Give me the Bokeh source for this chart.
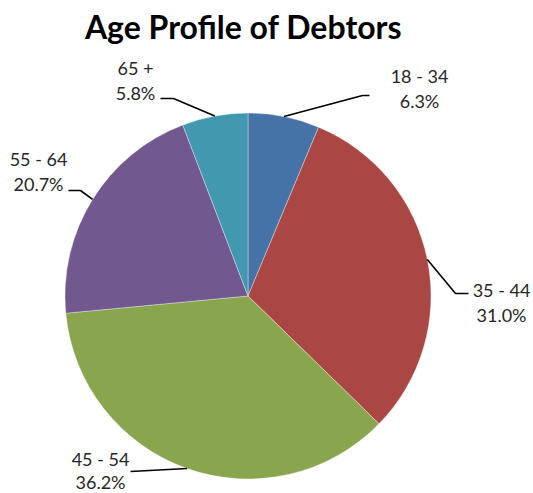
import math
from bokeh.plotting import figure
from bokeh.models import Range1d, ColumnDataSource
from bokeh.core.properties import value
from bokeh.embed import file_html
from bokeh.resources import INLINE

# ---- data ----
categories = ["18 - 34", "35 - 44", "45 - 54", "55 - 64", "65 +"]
percents = [6.3, 31.0, 36.2, 20.7, 5.8]
colors = ["#4572A7", "#AA4643", "#89A54E", "#71588F", "#4198AF"]
title_text = "Age Profile of Debtors"

# ---- layout (screen pixel coordinates) ----
W, H = 533, 493
CX, CY, R = 247.5, 295.5, 183.0
label_pos = [(419, 75), (501, 289), (100, 458), (38, 158), (135, 67)]
line_gaps = [25, 25, 23, 25, 25]
elbows = [
    [(362, 95), (369, 95)],
    [(455, 293), (468, 293)],
    [(130, 471)],
    [(80, 190), (68, 190)],
    [(173, 98), (160, 98)],
]

def sy(y):
    return H - y

p = figure(width=W, height=H, output_backend="svg", toolbar_location=None,
           x_range=Range1d(0, W), y_range=Range1d(0, H), min_border=0)
p.axis.visible = False
p.grid.visible = False
p.outline_line_color = None
p.background_fill_color = "white"
p.border_fill_color = "white"

total = sum(percents)
starts, ends, mids = [], [], []
cum = 0.0
for v in percents:
    a0 = math.pi / 2 - 2 * math.pi * (cum + v) / total
    a1 = math.pi / 2 - 2 * math.pi * cum / total
    starts.append(a0)
    ends.append(a1)
    mids.append((a0 + a1) / 2)
    cum += v

src = ColumnDataSource(dict(start=starts, end=ends, color=colors))
p.wedge(x=CX, y=sy(CY), radius=R, start_angle="start", end_angle="end",
        fill_color="color", line_color="white", line_width=0.6, line_alpha=0.6,
        source=src)

xs, ys = [], []
for m, el in zip(mids, elbows):
    x0 = CX + R * math.cos(m)
    y0 = sy(CY) + R * math.sin(m)
    xs.append([x0] + [e[0] for e in el])
    ys.append([y0] + [sy(e[1]) for e in el])
p.multi_line(xs=xs, ys=ys, line_color="black", line_width=1.6)

tx, ty, tt = [], [], []
for c, v, (lx, ly), g in zip(categories, percents, label_pos, line_gaps):
    tx += [lx, lx]
    ty += [sy(ly), sy(ly + g)]
    tt += [c, f"{v:.1f}%"]
p.text(x=tx, y=ty, text=tt, text_font=value("Lato"), text_font_size="18px",
       text_align="center", text_baseline="middle", text_color="#262626")

p.text(x=[243], y=[sy(26)], text=[title_text], text_font=value("Lato"),
       text_font_size="32px", text_font_style="bold", text_align="center",
       text_baseline="middle", text_color="black")

open("out.html", "w").write(file_html(p, INLINE))
